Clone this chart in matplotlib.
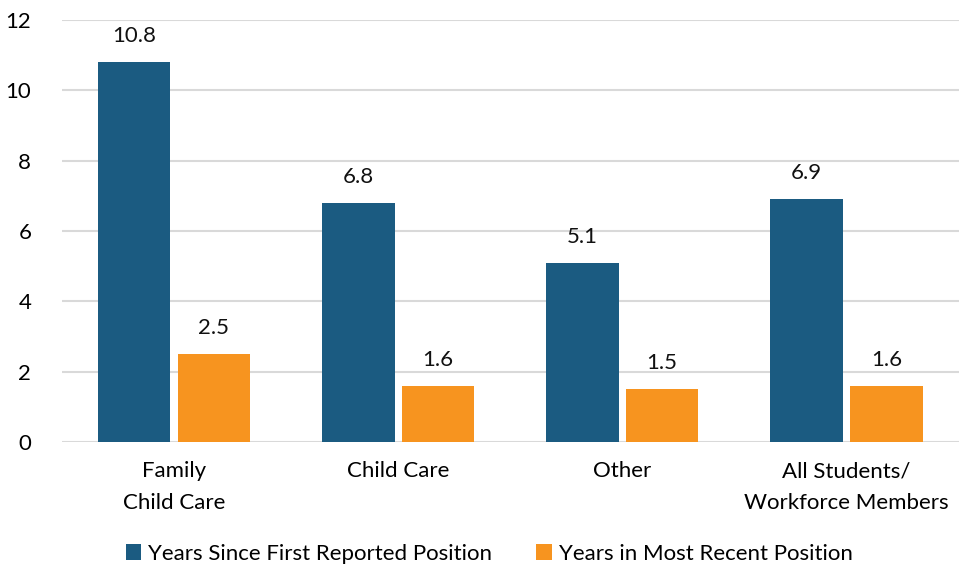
import numpy as np
import matplotlib
matplotlib.use("Agg")
import matplotlib.pyplot as plt

categories = ["Family\nChild Care", "Child Care", "Other", "All Students/\nWorkforce Members"]
first_position = [10.8, 6.8, 5.1, 6.9]
recent_position = [2.5, 1.6, 1.5, 1.6]
series_names = ["Years Since First Reported Position", "Years in Most Recent Position"]

plt.rcParams["font.family"] = ["Lato", "DejaVu Sans"]

fig = plt.figure(figsize=(9.59, 5.70), dpi=100)
ax = fig.add_axes([0.0645, 0.2246, 0.935, 0.7404])

x = np.arange(len(categories))
w = 0.324
off = 0.178
b1 = ax.bar(x - off, first_position, w, color="#1B5B81", label=series_names[0], zorder=3)
b2 = ax.bar(x + off, recent_position, w, color="#F7941F", label=series_names[1], zorder=3)

for bars, vals in ((b1, first_position), (b2, recent_position)):
    for r, v in zip(bars, vals):
        ax.text(r.get_x() + r.get_width() / 2, v + 0.45, f"{v:.1f}",
                ha="center", va="bottom", fontsize=16, color="#111111")

ax.set_xlim(-0.5, 3.5)
ax.set_ylim(0, 12)
ax.set_yticks(range(0, 13, 2))
ax.set_xticks(x)
ax.set_xticklabels(categories, fontsize=16, linespacing=1.7)
ax.tick_params(axis="y", labelsize=16, length=0, pad=22)
ax.tick_params(axis="x", length=0, pad=14)
ax.yaxis.grid(True, color="#D9D9D9", linewidth=1.5, zorder=0)
for s in ax.spines.values():
    s.set_visible(False)

fig.legend(handles=[b1, b2], loc="center", bbox_to_anchor=(0.51, 0.028), ncol=2,
           frameon=False, fontsize=16, handlelength=0.7, handleheight=0.7,
           handletextpad=0.3, columnspacing=2.0)

fig.savefig("out.png", dpi=100)
